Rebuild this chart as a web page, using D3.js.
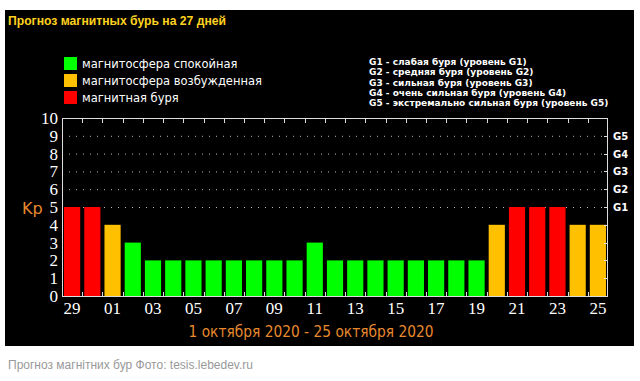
<!DOCTYPE html>
<html><head><meta charset="utf-8">
<script src="https://cdn.jsdelivr.net/npm/d3@7"></script>
<style>body{margin:0;background:#fff}svg{display:block}</style>
</head><body>
<svg id="c" width="640" height="381"></svg>
<script>
const days = ["29","30","01","02","03","04","05","06","07","08","09","10","11","12","13","14","15","16","17","18","19","20","21","22","23","24","25"];
const kp   = [5,5,4,3,2,2,2,2,2,2,2,2,3,2,2,2,2,2,2,2,2,4,5,5,5,4,4];
const dayLabels = ["29","01","03","05","07","09","11","13","15","17","19","21","23","25"];
const yTicks = [0,1,2,3,4,5,6,7,8,9,10];
const gLevels = ["G1","G2","G3","G4","G5"];
const gValues = [5,6,7,8,9];
const legendLabels = ["магнитосфера спокойная","магнитосфера возбужденная","магнитная буря"];
const legendColors = ["#00ff00","#ffc000","#ff0000"];
const gLegend = ["G1 - слабая буря (уровень G1)","G2 - средняя буря (уровень G2)","G3 - сильная буря (уровень G3)","G4 - очень сильная буря (уровень G4)","G5 - экстремально сильная буря (уровень G5)"];

const svg = d3.select("#c");
svg.append("rect").attr("x",5).attr("y",10).attr("width",629).attr("height",336).attr("fill","#000");

const L=62,R=608,T=118,B=296;
const x = d3.scaleBand().domain(days).range([L,R]).paddingInner(0.2).paddingOuter(0.1);
const y = d3.scaleLinear().domain([0,10]).range([B,T]);
const color = v => v>=5 ? legendColors[2] : v===4 ? legendColors[1] : legendColors[0];

// title
svg.append("text").attr("x",8).attr("y",25).attr("fill","#ffd21f")
  .attr("font-family","Liberation Sans, Arial").attr("font-weight","bold").attr("font-size",12)
  .attr("textLength",218).attr("lengthAdjust","spacingAndGlyphs")
  .text("Прогноз магнитных бурь на 27 дней");

// legend
const lg = svg.append("g");
legendLabels.forEach((t,i)=>{
  lg.append("rect").attr("x",64).attr("y",57+i*17).attr("width",13).attr("height",13).attr("fill",legendColors[i]);
  lg.append("text").attr("x",82).attr("y",68+i*17).attr("fill","#fff")
    .attr("font-family","DejaVu Sans, Verdana").attr("font-size",11.5).text(t);
});
gLegend.forEach((t,i)=>{
  svg.append("text").attr("x",369).attr("y",65+i*10.3).attr("fill","#fff")
    .attr("font-family","DejaVu Sans, Tahoma").attr("font-weight","bold").attr("font-size",9).text(t);
});

// dotted grid
const grid = svg.append("g");
gValues.forEach(v=>{
  grid.append("line").attr("x1",L).attr("x2",R).attr("y1",y(v)+0.5).attr("y2",y(v)+0.5)
    .attr("stroke","#bbb").attr("stroke-width",1).attr("stroke-dasharray","1,6");
});

// bars
svg.append("g").selectAll("rect").data(days).join("rect")
  .attr("x",d=>x(d)).attr("width",x.bandwidth())
  .attr("y",(d,i)=>y(kp[i])).attr("height",(d,i)=>y(0)-y(kp[i]))
  .attr("fill",(d,i)=>color(kp[i]));

// frame
svg.append("rect").attr("x",L+0.5).attr("y",T+0.5).attr("width",R-L-1).attr("height",B-T)
  .attr("fill","none").attr("stroke","#ddd").attr("stroke-width",1);

// boundary ticks top and bottom
const step = x.step();
const bounds = days.slice(1).map(d=>x(d)-step*x.paddingInner()/2);
const tk = svg.append("g").attr("stroke","#ddd");
bounds.forEach(b=>{
  tk.append("line").attr("x1",Math.round(b)+0.5).attr("x2",Math.round(b)+0.5).attr("y1",T).attr("y2",T+5);
  tk.append("line").attr("x1",Math.round(b)+0.5).attr("x2",Math.round(b)+0.5).attr("y1",B).attr("y2",B-4);
});
// right ticks
yTicks.slice(1,-1).forEach(v=>{
  tk.append("line").attr("x1",R-4).attr("x2",R).attr("y1",Math.round(y(v))+0.5).attr("y2",Math.round(y(v))+0.5);
});

// left axis labels
const yAxis = d3.axisLeft(y).tickValues(yTicks).tickSize(0).tickPadding(4);
const ya = svg.append("g").attr("transform",`translate(${L},0)`).call(yAxis);
ya.select(".domain").remove();
ya.selectAll("text").attr("fill","#fff").attr("font-family","Liberation Serif, Times New Roman").attr("font-size",17);

// bottom axis labels
const xAxis = d3.axisBottom(x).tickValues(dayLabels).tickSize(0).tickPadding(6);
const xa = svg.append("g").attr("transform",`translate(0,${B})`).call(xAxis);
xa.select(".domain").remove();
xa.selectAll("text").attr("fill","#fff").attr("font-family","Liberation Serif, Times New Roman").attr("font-size",17);

// right G labels
gLevels.forEach((g,i)=>{
  svg.append("text").attr("x",613).attr("y",y(gValues[i])+4).attr("fill","#fff")
    .attr("font-family","DejaVu Sans, Tahoma").attr("font-weight","bold").attr("font-size",10).text(g);
});

// Kp
svg.append("text").attr("x",22).attr("y",214).attr("fill","#e8892e")
  .attr("font-family","DejaVu Sans, Verdana").attr("font-size",16).text("Kp");

// date range
svg.append("text").attr("x",311).attr("y",337).attr("text-anchor","middle").attr("fill","#e8892e")
  .attr("font-family","DejaVu Sans, Verdana").attr("font-size",15).attr("textLength",245).attr("lengthAdjust","spacingAndGlyphs")
  .text("1 октября 2020 - 25 октября 2020");

// caption
svg.append("text").attr("x",8).attr("y",369).attr("fill","#999")
  .attr("font-family","Liberation Sans, Arial").attr("font-size",12)
  .text("Прогноз магнітних бур Фото: tesis.lebedev.ru");
</script>
</body></html>
